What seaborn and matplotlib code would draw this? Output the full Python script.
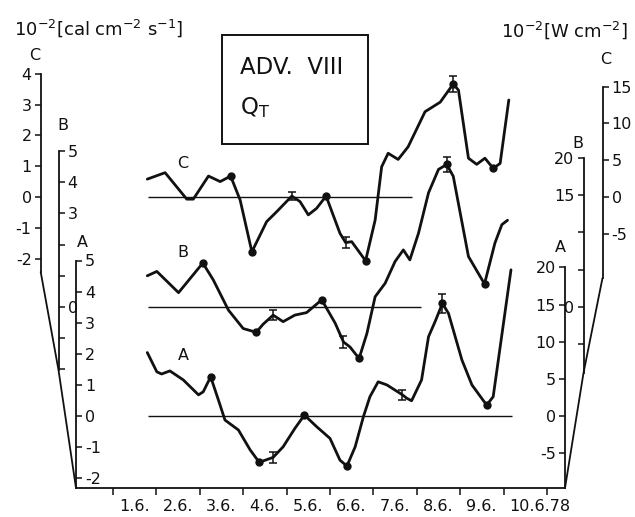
import matplotlib
matplotlib.use("Agg")
import matplotlib.pyplot as plt
import seaborn as sns
from matplotlib.lines import Line2D
from matplotlib.patches import Rectangle
from matplotlib.transforms import ScaledTranslation

# ---------------- data ----------------
# x values: day of June 1978 (tick "d.6." marks the start of day d)
C_day = [1.79, 2.20, 2.70, 2.85, 3.20, 3.47, 3.71, 3.93, 4.20, 4.54, 4.77, 5.12, 5.31, 5.50,
         5.69, 5.91, 6.23, 6.36, 6.50, 6.82, 7.04, 7.19, 7.34, 7.57, 7.80, 8.19, 8.54, 8.84,
         8.96, 9.19, 9.38, 9.57, 9.76, 9.92, 10.12]
C_val = [0.58, 0.79, -0.07, -0.07, 0.68, 0.50, 0.68, -0.10, -1.78, -0.80, -0.48, 0.03, -0.15,
         -0.58, -0.37, 0.03, -1.18, -1.48, -1.45, -2.07, -0.75, 0.98, 1.42, 1.22, 1.63, 2.77,
         3.08, 3.67, 3.47, 1.26, 1.06, 1.26, 0.93, 1.09, 3.15]
B_day = [1.79, 2.01, 2.51, 3.07, 3.31, 3.66, 4.00, 4.30, 4.46, 4.69, 4.92, 5.19, 5.46, 5.81,
         6.12, 6.31, 6.46, 6.67, 6.85, 7.04, 7.27, 7.50, 7.69, 7.84, 8.04, 8.27, 8.50, 8.69,
         8.84, 9.19, 9.56, 9.80, 9.96, 10.09]
B_val = [1.00, 1.14, 0.46, 1.41, 0.87, -0.10, -0.69, -0.81, -0.55, -0.26, -0.47, -0.26, -0.18,
         0.23, -0.52, -1.12, -1.28, -1.65, -0.85, 0.33, 0.76, 1.46, 1.83, 1.51, 2.37, 3.66,
         4.41, 4.57, 4.19, 1.62, 0.74, 2.05, 2.64, 2.78]
A_day = [1.79, 2.01, 2.12, 2.31, 2.62, 2.97, 3.08, 3.25, 3.43, 3.58, 3.89, 4.16, 4.37, 4.69,
         4.92, 5.19, 5.41, 5.69, 6.00, 6.23, 6.39, 6.58, 6.77, 6.92, 7.11, 7.31, 7.67, 7.77,
         7.88, 8.11, 8.27, 8.42, 8.59, 8.73, 9.04, 9.27, 9.61, 9.76, 10.17]
A_val = [2.04, 1.42, 1.35, 1.45, 1.16, 0.68, 0.78, 1.26, 0.51, -0.13, -0.45, -1.09, -1.49,
         -1.33, -0.99, -0.40, 0.03, -0.34, -0.72, -1.42, -1.61, -0.99, -0.02, 0.62, 1.10, 1.00,
         0.68, 0.57, 0.49, 1.16, 2.55, 3.03, 3.62, 3.30, 1.80, 1.00, 0.35, 0.62, 4.70]

C_dot_day = [3.71, 4.20, 5.91, 6.82, 8.84, 9.76]
C_dot_val = [0.68, -1.78, 0.03, -2.07, 3.67, 0.93]
B_dot_day = [3.07, 4.30, 5.81, 6.67, 8.69, 9.56]
B_dot_val = [1.41, -0.81, 0.23, -1.65, 4.57, 0.74]
A_dot_day = [3.25, 4.37, 5.41, 6.39, 8.59, 9.61]
A_dot_val = [1.26, -1.49, 0.03, -1.61, 3.62, 0.35]

C_err_day = [5.12, 6.36, 8.84]
C_err_val = [0.03, -1.48, 3.67]
C_err = [0.12, 0.17, 0.25]
B_err_day = [4.69, 6.31, 8.69]
B_err_val = [-0.26, -1.12, 4.57]
B_err = [0.15, 0.20, 0.25]
A_err_day = [4.69, 7.67, 8.59]
A_err_val = [-1.33, 0.68, 3.62]
A_err = [0.18, 0.16, 0.30]

# zero reference lines: start / end day
C_zero_span = [1.81, 7.89]
B_zero_span = [1.81, 8.10]
A_zero_span = [1.81, 10.19]

x_ticks = [1, 2, 3, 4, 5, 6, 7, 8, 9, 10, 11]
x_labels = ["1.6.", "2.6.", "3.6.", "4.6.", "5.6.", "6.6.", "7.6.", "8.6.", "9.6.", "10.6.78", ""]

CAL_TO_W = 4.184

# ---------------- layout ----------------
FW, FH = 635, 517
INK = "#111111"
FS = 11.5
X_L, X_R, Y_B = 76, 565, 488
DAY1_PX, DAY_PX = 113, 43.4

sns.set_theme(style="white")
plt.rcParams["font.family"] = ["DejaVu Sans"]
plt.rcParams["mathtext.default"] = "regular"

fig = plt.figure(figsize=(FW / 100, FH / 100), dpi=100)
fig.patch.set_facecolor("white")


def fx(px):
    return px / FW


def fy(py):
    return 1 - py / FH


RECT = [fx(X_L), fy(Y_B), (X_R - X_L) / FW, Y_B / FH]
XLIM = (1 + (X_L - DAY1_PX) / DAY_PX, 1 + (X_R - DAY1_PX) / DAY_PX)

# zero pixel row and px per unit for each series
GEOM = {"C": (197, 30.8), "B": (307, 31.2), "A": (416, 31.1)}


def ylim_for(key, factor=1.0):
    z, s = GEOM[key]
    return ((z - Y_B) / s * factor, z / s * factor)


def val_at(key, py, factor=1.0):
    z, s = GEOM[key]
    return (z - py) / s * factor


# main axes (A series + time axis)
axA = fig.add_axes(RECT)
axA.patch.set_visible(False)
for k in ("top", "left", "right"):
    axA.spines[k].set_visible(False)
axA.spines["bottom"].set_color(INK)
axA.spines["bottom"].set_linewidth(1.3)

axB = fig.add_axes(RECT)
axC = fig.add_axes(RECT)
for ax in (axB, axC):
    ax.patch.set_visible(False)
    ax.axis("off")

series = [
    (axA, "A", A_day, A_val, A_dot_day, A_dot_val, A_err_day, A_err_val, A_err, A_zero_span),
    (axB, "B", B_day, B_val, B_dot_day, B_dot_val, B_err_day, B_err_val, B_err, B_zero_span),
    (axC, "C", C_day, C_val, C_dot_day, C_dot_val, C_err_day, C_err_val, C_err, C_zero_span),
]
for ax, key, d, v, dd, dv, ed, ev, ee, span in series:
    ax.hlines(0, span[0], span[1], color=INK, lw=1.0, zorder=2)
    sns.lineplot(x=d, y=v, ax=ax, color=INK, lw=2.0, estimator=None, sort=False, zorder=3)
    sns.scatterplot(x=dd, y=dv, ax=ax, color=INK, s=36, edgecolor=INK, linewidth=0, zorder=5)
    ax.errorbar(ed, ev, yerr=ee, fmt="none", ecolor=INK, elinewidth=1.1, capsize=3, capthick=1.1, zorder=4)
    ax.set_xlim(*XLIM)
    ax.set_ylim(*ylim_for(key))

axA.set_yticks([])
axA.set_xticks(x_ticks)
axA.set_xticklabels(x_labels)
axA.set_xlabel("")
axA.set_ylabel("")
axA.tick_params(axis="x", bottom=True, direction="out", length=5, width=1.1, color=INK,
                pad=3, labelsize=FS, labelcolor=INK)
off = ScaledTranslation(6 / 100, 0, fig.dpi_scale_trans)
for lab in axA.get_xticklabels():
    lab.set_ha("left")
    lab.set_transform(lab.get_transform() + off)


def scale_axis(key, factor, side, x_px, bottom_px, ticks, labels):
    ax = fig.add_axes(RECT)
    ax.patch.set_visible(False)
    ax.set_xlim(*XLIM)
    ax.set_ylim(*ylim_for(key, factor))
    ax.set_xticks([])
    for s in ax.spines.values():
        s.set_visible(False)
    sp = ax.spines[side]
    sp.set_visible(True)
    sp.set_color(INK)
    sp.set_linewidth(1.3)
    sp.set_position(("axes", (x_px - X_L) / (X_R - X_L)))
    sp.set_bounds(val_at(key, bottom_px, factor), ticks[-1])
    ax.yaxis.set_ticks_position(side)
    ax.set_yticks(ticks)
    ax.set_yticklabels(labels)
    ax.tick_params(axis="y", direction="out", length=4.5, width=1.1, color=INK, pad=2,
                   labelsize=FS, labelcolor=INK)
    return ax


# left scales  [10^-2 cal cm^-2 s^-1]
scale_axis("C", 1.0, "left", 40.7, 272, [-2, -1, 0, 1, 2, 3, 4],
           ["-2", "-1", "0", "1", "2", "3", "4"])
scale_axis("B", 1.0, "right", 58.5, 370, [-2, -1, 0, 1, 2, 3, 4, 5],
           ["", "", "0", "", "", "3", "4", "5"])
scale_axis("A", 1.0, "right", X_L, Y_B, [-2, -1, 0, 1, 2, 3, 4, 5],
           ["-2", "-1", "0", "1", "2", "3", "4", "5"])
# right scales  [10^-2 W cm^-2]
scale_axis("A", CAL_TO_W, "left", X_R, Y_B, [-5, 0, 5, 10, 15, 20],
           ["-5", "0", "5", "10", "15", "20"])
scale_axis("B", CAL_TO_W, "left", 583.5, 373, [-5, 0, 5, 10, 15, 20],
           ["", "0", "", "", "15", "20"])
scale_axis("C", CAL_TO_W, "right", 602.5, 278, [-5, 0, 5, 10, 15],
           ["-5", "0", "5", "10", "15"])

# perspective connector lines
for pts in ([(40.7, 272), (58.5, 370), (X_L, Y_B)], [(602.5, 278), (583.5, 373), (X_R, Y_B)]):
    fig.add_artist(Line2D([fx(p[0]) for p in pts], [fy(p[1]) for p in pts],
                          transform=fig.transFigure, color=INK, lw=1.3))

# axis letters
for txt, x, y in [("C", 35, 55), ("B", 63, 125), ("A", 82, 243),
                  ("C", 606, 60), ("B", 578, 144), ("A", 560, 248),
                  ("C", 183, 163), ("B", 183, 253), ("A", 183, 356)]:
    fig.text(fx(x), fy(y), txt, ha="center", va="center", fontsize=FS, color=INK)

# unit headers
fig.text(fx(14), fy(28), r"$10^{-2}$[cal cm$^{-2}$ s$^{-1}$]", ha="left", va="center",
         fontsize=13, color=INK)
fig.text(fx(501), fy(30), r"$10^{-2}$[W cm$^{-2}$]", ha="left", va="center",
         fontsize=13, color=INK)

# title box
fig.add_artist(Rectangle((fx(222), fy(144)), (368 - 222) / FW, (144 - 35) / FH,
                         transform=fig.transFigure, fill=False, edgecolor=INK, lw=1.4))
fig.text(fx(240), fy(67), "ADV.  VIII", ha="left", va="center", fontsize=16.5, color=INK)
fig.text(fx(240), fy(108), r"Q$_{T}$", ha="left", va="center", fontsize=16.5, color=INK)

fig.savefig("out.png", dpi=100, facecolor="white")
